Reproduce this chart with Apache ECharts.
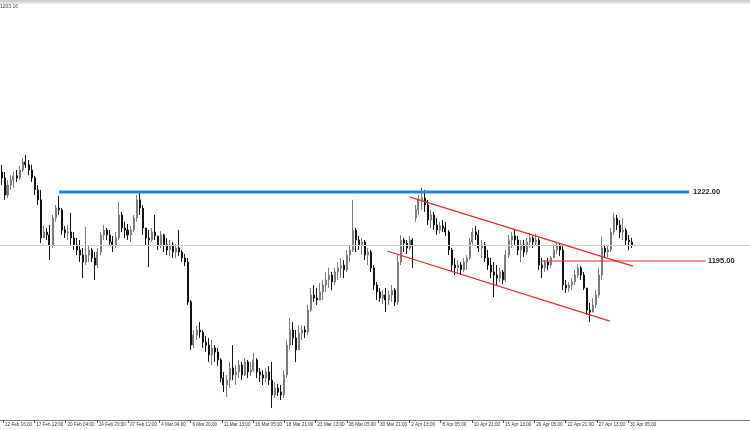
<!DOCTYPE html>
<html><head><meta charset="utf-8">
<script src="https://cdn.jsdelivr.net/npm/echarts@6/dist/echarts.min.js"></script>
<style>html,body{margin:0;padding:0;background:#fff}#c{width:750px;height:430px}</style>
</head><body><div id="c"></div>
<script>
// ---- data (XAUUSD H4) ----
const openP = [
1229.8,1227.5,1220.8,1224.7,1226.7,1228.3,1227.5,1230.6,1233.7,1232.6,
1230.6,1227.5,1222.8,1218.9,1204.0,1206.3,1205.2,1201.3,1211.8,1215.7,
1215.0,1207.1,1206.0,1206.3,1204.0,1201.3,1199.3,1197.3,1194.6,1197.3,
1199.3,1196.2,1193.4,1198.5,1205.2,1207.1,1205.2,1202.4,1201.3,1204.0,
1213.0,1207.9,1207.1,1205.2,1207.1,1211.8,1218.9,1215.7,1207.9,1204.0,
1203.2,1206.3,1204.8,1201.3,1205.2,1201.3,1199.3,1201.3,1198.5,1200.1,
1198.5,1196.2,1194.6,1179.0,1162.1,1166.0,1168.0,1167.2,1163.3,1162.1,
1158.2,1161.0,1159.4,1156.3,1149.2,1146.5,1148.4,1153.1,1150.4,1151.6,
1154.3,1150.4,1155.5,1151.6,1152.3,1156.3,1151.6,1150.4,1149.2,1151.6,
1148.4,1142.6,1145.3,1143.7,1142.6,1150.4,1162.1,1168.0,1164.9,1160.2,
1166.8,1168.0,1167.2,1175.8,1181.7,1180.5,1179.7,1182.9,1185.6,1187.6,
1189.5,1186.8,1190.7,1192.3,1193.4,1191.5,1197.3,1199.3,1207.1,1203.2,
1201.3,1202.4,1197.3,1198.5,1192.3,1185.6,1182.9,1180.5,1181.7,1179.7,
1181.7,1183.6,1179.0,1194.6,1203.2,1202.0,1200.1,1203.2,1211.8,1215.0,
1218.9,1219.6,1216.9,1211.0,1213.0,1209.1,1207.1,1208.7,1207.9,1206.3,
1199.3,1193.4,1192.3,1193.4,1191.5,1194.6,1196.2,1202.4,1206.3,1205.2,
1200.1,1201.3,1196.2,1193.4,1190.7,1189.5,1188.3,1190.7,1187.6,1197.3,
1203.2,1204.8,1203.2,1199.3,1201.3,1198.5,1202.4,1204.0,1202.4,1203.2,
1193.4,1192.3,1194.6,1193.4,1196.2,1199.3,1200.9,1199.3,1185.6,1184.4,
1185.6,1186.8,1189.5,1192.3,1189.5,1184.4,1175.8,1175.0,1177.8,1181.7,
1189.5,1200.1,1198.5,1199.3,1206.3,1211.8,1209.1,1206.3,1207.1,1203.2,1202.4];
const closeP = [
1227.5,1220.8,1224.7,1226.7,1228.3,1227.5,1230.6,1233.7,1232.6,1230.6,
1227.5,1222.8,1218.9,1204.0,1206.3,1205.2,1201.3,1211.8,1215.7,1215.0,
1207.1,1206.0,1206.3,1204.0,1201.3,1199.3,1197.3,1194.6,1197.3,1199.3,
1196.2,1193.4,1198.5,1205.2,1207.1,1205.2,1202.4,1201.3,1204.0,1213.0,
1207.9,1207.1,1205.2,1207.1,1211.8,1218.9,1215.7,1207.9,1204.0,1203.2,
1206.3,1204.8,1201.3,1205.2,1201.3,1199.3,1201.3,1198.5,1200.1,1198.5,
1196.2,1194.6,1179.0,1162.1,1166.0,1168.0,1167.2,1163.3,1162.1,1158.2,
1161.0,1159.4,1156.3,1149.2,1146.5,1148.4,1153.1,1150.4,1151.6,1154.3,
1150.4,1155.5,1151.6,1152.3,1156.3,1151.6,1150.4,1149.2,1151.6,1148.4,
1142.6,1145.3,1143.7,1142.6,1150.4,1162.1,1168.0,1164.9,1160.2,1166.8,
1168.0,1167.2,1175.8,1181.7,1180.5,1179.7,1182.9,1185.6,1187.6,1189.5,
1186.8,1190.7,1192.3,1193.4,1191.5,1197.3,1199.3,1207.1,1203.2,1201.3,
1202.4,1197.3,1198.5,1192.3,1185.6,1182.9,1180.5,1181.7,1179.7,1181.7,
1183.6,1179.0,1194.6,1203.2,1202.0,1200.1,1203.2,1200.9,1215.0,1218.9,
1219.6,1216.9,1211.0,1213.0,1209.1,1207.1,1208.7,1207.9,1206.3,1199.3,
1193.4,1192.3,1193.4,1191.5,1194.6,1196.2,1202.4,1206.3,1205.2,1200.1,
1201.3,1196.2,1193.4,1190.7,1189.5,1188.3,1190.7,1187.6,1197.3,1203.2,
1204.8,1203.2,1199.3,1201.3,1198.5,1202.4,1204.0,1202.4,1203.2,1193.4,
1192.3,1194.6,1193.4,1196.2,1199.3,1200.9,1199.3,1185.6,1184.4,1185.6,
1186.8,1189.5,1192.3,1189.5,1184.4,1175.8,1175.0,1177.8,1181.7,1189.5,
1200.1,1198.5,1199.3,1206.3,1211.8,1209.1,1206.3,1207.1,1203.2,1202.4,1201.3];
const highP = [
1232.6,1229.8,1226.7,1228.6,1229.8,1230.6,1232.2,1235.3,1236.5,1234.5,
1232.6,1228.3,1224.7,1222.8,1208.7,1207.9,1209.1,1213.0,1216.9,1220.4,
1215.7,1208.7,1209.1,1213.8,1206.3,1204.0,1203.2,1200.1,1208.3,1201.3,
1200.1,1198.5,1200.1,1206.3,1209.1,1207.9,1207.1,1204.8,1206.3,1218.1,
1214.2,1210.3,1209.5,1208.7,1213.0,1220.8,1222.0,1216.9,1207.9,1207.1,
1207.9,1213.0,1204.8,1206.7,1205.6,1204.0,1203.2,1202.4,1201.6,1207.1,
1199.3,1197.7,1196.2,1179.7,1168.0,1169.6,1171.1,1168.0,1165.6,1164.9,
1164.1,1162.1,1161.0,1157.0,1151.6,1150.4,1155.5,1162.1,1154.3,1156.3,
1155.5,1157.0,1156.3,1155.5,1159.0,1157.0,1153.1,1152.3,1153.1,1153.9,
1155.5,1147.6,1146.9,1146.5,1152.3,1164.1,1172.7,1171.1,1168.0,1169.9,
1169.9,1169.6,1177.8,1184.4,1185.6,1184.4,1186.4,1187.6,1190.7,1192.3,
1190.7,1192.3,1194.6,1196.2,1195.4,1199.3,1201.3,1218.9,1207.9,1204.8,
1204.0,1203.2,1200.1,1199.3,1193.4,1186.8,1184.4,1183.6,1184.4,1183.6,
1185.6,1184.4,1197.3,1205.2,1204.0,1203.2,1204.8,1204.0,1216.9,1220.8,
1223.6,1222.8,1218.9,1215.0,1214.2,1211.8,1210.3,1211.0,1210.3,1207.1,
1200.1,1196.2,1195.4,1194.6,1196.2,1197.3,1204.0,1207.9,1208.7,1207.1,
1203.2,1202.4,1199.3,1196.2,1194.6,1193.4,1192.3,1191.5,1199.3,1205.2,
1206.3,1207.1,1204.8,1203.2,1203.2,1204.0,1206.0,1204.8,1205.6,1204.0,
1196.2,1195.4,1196.2,1197.0,1201.3,1202.4,1202.0,1201.3,1187.6,1186.8,
1188.3,1191.5,1193.8,1193.0,1190.7,1184.4,1178.6,1180.5,1183.6,1192.3,
1204.4,1201.3,1200.9,1207.9,1213.8,1213.0,1211.0,1211.8,1207.9,1205.2,1204.0];
const lowP = [
1224.7,1218.9,1219.6,1222.8,1223.6,1225.9,1226.7,1229.8,1231.4,1228.6,
1225.9,1220.8,1216.9,1202.0,1204.0,1203.2,1195.4,1200.1,1210.3,1213.0,
1205.2,1204.0,1203.2,1201.3,1199.3,1197.3,1194.6,1188.3,1193.4,1194.6,
1194.6,1187.6,1192.3,1197.3,1203.2,1203.2,1201.3,1198.5,1200.1,1203.2,
1206.3,1204.0,1203.2,1202.4,1206.3,1210.3,1213.0,1205.2,1201.3,1192.6,
1202.4,1203.2,1199.3,1200.1,1198.5,1197.3,1197.0,1196.2,1196.2,1197.0,
1194.6,1193.0,1177.8,1160.2,1161.0,1164.1,1164.9,1161.0,1159.4,1155.5,
1154.3,1155.5,1153.9,1147.6,1143.7,1141.8,1145.3,1148.4,1146.5,1149.2,
1148.4,1150.0,1149.2,1150.0,1151.6,1149.2,1147.6,1146.5,1147.6,1146.5,
1137.5,1141.4,1142.2,1140.6,1141.4,1149.2,1160.2,1162.1,1155.5,1160.2,
1164.1,1164.9,1166.0,1175.0,1179.0,1177.8,1179.7,1179.7,1182.9,1184.4,
1183.6,1185.6,1187.6,1188.3,1188.3,1190.7,1194.6,1198.5,1198.5,1199.3,
1197.3,1195.4,1193.4,1190.7,1183.6,1179.7,1179.0,1178.2,1175.0,1177.8,
1179.0,1177.4,1177.8,1193.4,1198.5,1197.7,1199.3,1192.3,1210.3,1213.0,
1215.0,1214.2,1209.1,1207.9,1207.1,1205.2,1205.6,1206.3,1204.8,1197.3,
1190.7,1189.5,1190.3,1189.5,1190.7,1191.5,1195.4,1201.3,1203.2,1198.5,
1196.2,1194.6,1191.5,1188.3,1180.9,1185.6,1186.8,1186.0,1186.8,1196.2,
1200.1,1201.3,1197.3,1194.6,1196.6,1197.3,1200.1,1200.1,1200.9,1191.5,
1188.3,1190.7,1191.5,1192.3,1196.2,1197.7,1197.0,1183.6,1182.5,1182.9,
1183.6,1185.6,1188.3,1187.6,1183.6,1173.9,1171.1,1175.0,1176.6,1180.5,
1187.6,1196.2,1196.6,1198.5,1205.2,1207.1,1204.0,1203.2,1201.3,1199.3,1200.1];
const dateLabels = ['12 Feb 16:00','17 Feb 12:00','20 Feb 04:00','24 Feb 20:00','27 Feb 12:00','4 Mar 04:00','6 Mar 20:00','11 Mar 13:00','16 Mar 05:00','18 Mar 21:00','23 Mar 13:00','26 Mar 05:00','30 Mar 21:00','2 Apr 13:00','8 Apr 05:00','10 Apr 21:00','15 Apr 13:00','20 Apr 05:00','22 Apr 21:00','27 Apr 13:00','30 Apr 05:00'];
const bidPrice = 1201.3;
const headerText = '1203.16';
// horizontal levels: [startBar, endBar, price]
const resistance = [19.2, 229.2, 1222.0];
const support = [180.2, 234.8, 1195.0];
// channel lines: [[bar, price],[bar, price]]
const channelUpper = [[136.2, 1220.0], [210.5, 1193.0]];
const channelLower = [[128.5, 1198.9], [202.8, 1171.5]];

const SLOTS = 250;
const slots = Array.from({length: SLOTS}, (_, i) => i);
const candles = closeP.map((c, i) => [openP[i], c, lowP[i], highP[i]]);
const LABEL_STEPS = dateLabels.length - 1;

const chart = echarts.init(document.getElementById('c'), null, {renderer: 'canvas'});
const fontFam = '"Liberation Sans", Arial, sans-serif';
function levelSeries(lv, color, width, dist) {
  return {
    type: 'line', xAxisIndex: 2, yAxisIndex: 0, silent: true,
    symbol: 'none', showSymbol: false,
    lineStyle: {color: color, width: width},
    endLabel: {show: true, distance: dist, formatter: () => lv[2].toFixed(2),
      color: '#1a1a1a', fontSize: 7.5, fontWeight: 'bold', fontFamily: fontFam},
    data: [[lv[0], lv[2]], [lv[1], lv[2]]],
    z: 5
  };
}
chart.setOption({
  animation: false,
  backgroundColor: '#ffffff',
  grid: [
    {left: 0, right: 0, top: 3, height: 417},
    {left: 3, width: LABEL_STEPS * 31.25, top: 3, height: 417}
  ],
  xAxis: [
    {type: 'category', gridIndex: 0, data: slots, boundaryGap: true,
     axisLine: {show: true, lineStyle: {color: '#7a7a7a', width: 1}},
     axisTick: {show: false}, axisLabel: {show: false}, splitLine: {show: false}},
    {type: 'value', gridIndex: 1, min: 0, max: LABEL_STEPS, interval: 1,
     axisLine: {show: false},
     axisTick: {show: true, length: 3, lineStyle: {color: '#555'}},
     axisLabel: {show: true, align: 'left', margin: 2, padding: [0, 0, 0, 2], fontSize: 4.6, color: '#333', fontFamily: fontFam,
       showMaxLabel: true, formatter: v => dateLabels[v] || ''},
     splitLine: {show: false}},
    {type: 'value', gridIndex: 0, min: -0.5, max: SLOTS - 0.5, show: false}
  ],
  yAxis: [
    {type: 'value', gridIndex: 0, min: 1132.8, max: 1295.9, show: false, splitLine: {show: false}},
    {type: 'value', gridIndex: 1, min: 0, max: 1, show: false}
  ],
  graphic: [
    {type: 'line', shape: {x1: 0, y1: 1, x2: 750, y2: 1}, style: {stroke: '#9a9a9a', lineWidth: 1}, silent: true},
    {type: 'line', shape: {x1: 0, y1: 3, x2: 750, y2: 3}, style: {stroke: '#c8c8c8', lineWidth: 1}, silent: true},
    {type: 'text', left: 0, top: 4, style: {text: headerText, fontSize: 5, fill: '#444', fontFamily: fontFam}, silent: true}
  ],
  series: [
    {type: 'candlestick', xAxisIndex: 0, yAxisIndex: 0, data: candles, barWidth: 1.5,
     itemStyle: {color: '#7c7c7c', color0: '#111111', borderColor: '#7c7c7c', borderColor0: '#111111', borderWidth: 1},
     markLine: {silent: true, symbol: 'none', label: {show: false},
       lineStyle: {color: '#cfcfcf', width: 1, type: 'solid'},
       data: [{yAxis: bidPrice}]},
     z: 3},
    levelSeries(resistance, '#1c86e6', 3, 4),
    levelSeries(support, '#e52b2b', 1, 2),
    {type: 'line', xAxisIndex: 2, yAxisIndex: 0, silent: true, symbol: 'none', lineStyle: {color: '#e52b2b', width: 1.3}, data: channelUpper, z: 5},
    {type: 'line', xAxisIndex: 2, yAxisIndex: 0, silent: true, symbol: 'none', lineStyle: {color: '#e52b2b', width: 1.3}, data: channelLower, z: 5}
  ]
});
</script></body></html>
